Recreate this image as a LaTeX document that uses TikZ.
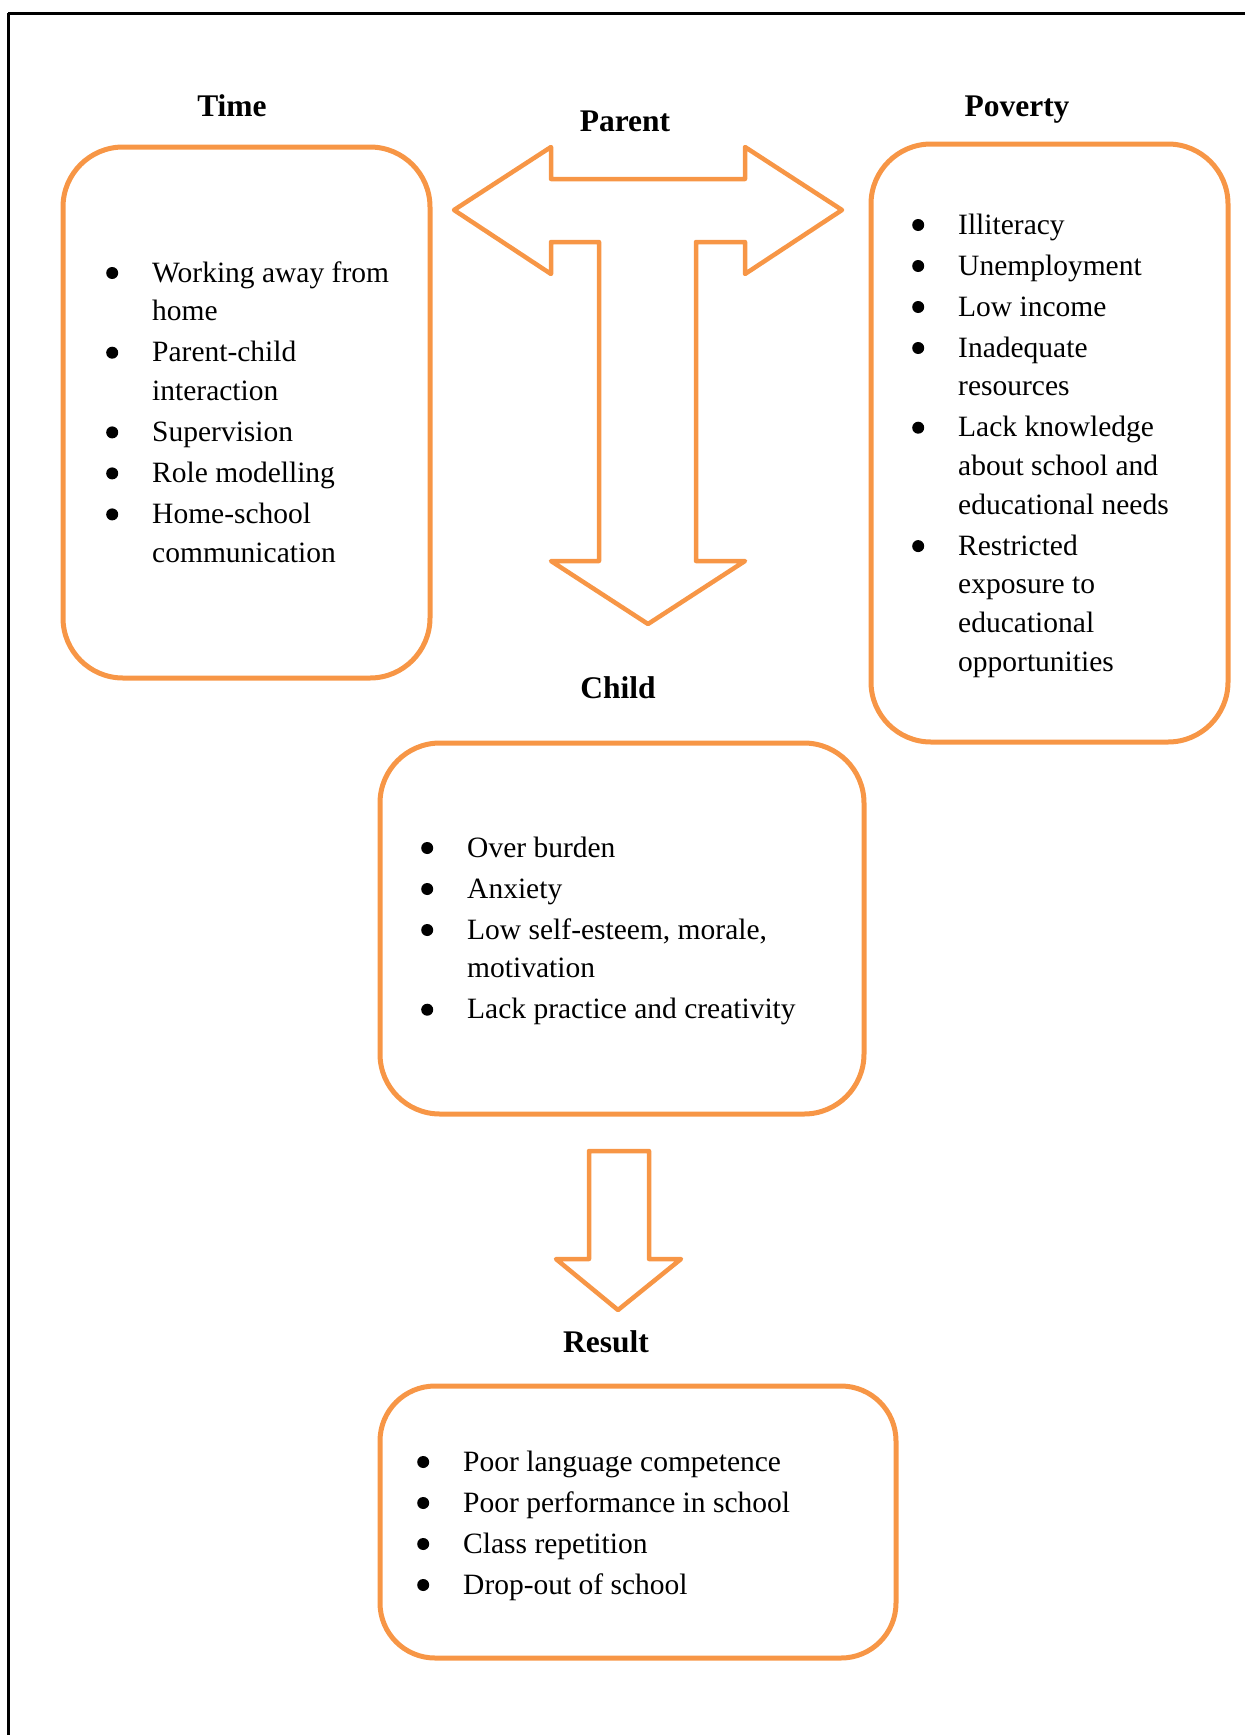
\documentclass[tikz,border=0pt]{standalone}
\usepackage{fontspec}
\setmainfont{Liberation Serif}
\definecolor{accent}{HTML}{F79646}
\tikzset{
  card/.style={draw=accent, line width=5pt, rounded corners=60pt, inner sep=0pt},
  head/.style={font=\fontsize{31.5}{36}\selectfont\bfseries, inner sep=0pt, anchor=base},
  blist/.style={font=\fontsize{29.5}{38.7}\selectfont, inner sep=0pt, anchor=base west, align=left},
  bigarrow/.style={draw=accent, line width=4.5pt, line join=round},
  frame/.style={draw=black, line width=3pt},
}
% round list bullet
\newcommand\bl{\tikz[baseline=0pt]{\path (0pt,0pt); \fill[black] (5pt,9pt) circle[radius=6pt];}}
\newenvironment{bullets}{\begin{tabular}[t]{@{}p{46pt}@{}l@{}}}{\end{tabular}}
\begin{document}
\begin{tikzpicture}[x=1pt,y=-1pt]
\useasboundingbox (0,0) rectangle (1245,1735);
% page frame (top and left edges)
\draw[frame] (8,13) -- (1245,13);
\draw[frame] (8,13) -- (8,1735);

% headings
\node[head] (time)    at (232,116)  {Time};
\node[head] (parent)  at (625,131)  {Parent};
\node[head] (poverty) at (1017,116) {Poverty};
\node[head] (child)   at (618,698)  {Child};
\node[head] (result)  at (606,1352) {Result};

% boxes
\node[card, minimum width=367pt, minimum height=531pt] (timebox)    at (246.5,412.5) {};
\node[card, minimum width=357pt, minimum height=598pt] (povertybox) at (1049.5,443) {};
\node[card, minimum width=484pt, minimum height=371pt] (childbox)   at (622,928.5) {};
\node[card, minimum width=516pt, minimum height=272pt, rounded corners=55pt] (resultbox) at (638,1522) {};

% lists
\node[blist] (timelist) at (106,282) {\begin{bullets}
\bl & Working away from \\
    & home \\[2.3pt]
\bl & Parent-child \\
    & interaction \\[2.3pt]
\bl & Supervision \\[2.3pt]
\bl & Role modelling \\[2.3pt]
\bl & Home-school \\
    & communication
\end{bullets}};

\node[blist] (povertylist) at (912,234) {\begin{bullets}
\bl & Illiteracy \\[2.3pt]
\bl & Unemployment \\[2.3pt]
\bl & Low income \\[2.3pt]
\bl & Inadequate \\
    & resources \\[2.3pt]
\bl & Lack knowledge \\
    & about school and \\
    & educational needs \\[2.3pt]
\bl & Restricted \\
    & exposure to \\
    & educational \\
    & opportunities
\end{bullets}};

\node[blist] (childlist) at (421,857) {\begin{bullets}
\bl & Over burden \\[2.3pt]
\bl & Anxiety \\[2.3pt]
\bl & Low self-esteem, morale, \\
    & motivation \\[2.3pt]
\bl & Lack practice and creativity
\end{bullets}};

\node[blist] (resultlist) at (417,1471) {\begin{bullets}
\bl & Poor language competence \\[2.3pt]
\bl & Poor performance in school \\[2.3pt]
\bl & Class repetition \\[2.3pt]
\bl & Drop-out of school
\end{bullets}};

% three-way block arrow under "Parent"
\draw[bigarrow] (454,210) -- (551,147) -- (551,179) -- (745,179) -- (745,147)
  -- (842,210) -- (745,274) -- (745,242) -- (696,242) -- (696,561)
  -- (745,561) -- (648,624) -- (551,561) -- (599,561) -- (599,242)
  -- (551,242) -- (551,274) -- cycle;

% down block arrow from Child to Result
\draw[bigarrow] (589,1151) -- (649,1151) -- (649,1259) -- (681,1259)
  -- (618,1310) -- (556,1259) -- (589,1259) -- cycle;
\end{tikzpicture}
\end{document}
